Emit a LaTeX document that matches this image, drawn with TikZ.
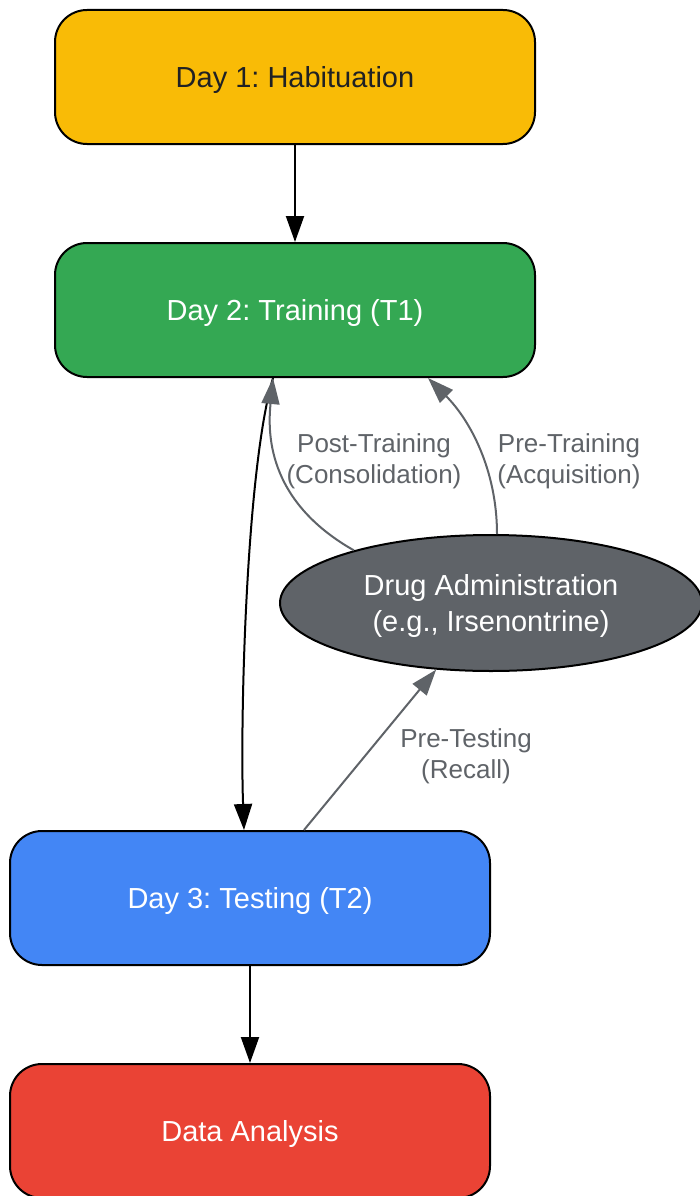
\documentclass[tikz,border=0pt]{standalone}
\usepackage{fontspec}
\setmainfont{Liberation Sans}
\usetikzlibrary{arrows.meta,shapes.geometric}
\definecolor{dayone}{HTML}{F9BB06}
\definecolor{daytwo}{HTML}{34A853}
\definecolor{daythree}{HTML}{4386F5}
\definecolor{analysisred}{HTML}{EA4335}
\definecolor{druggray}{HTML}{5F6368}
\definecolor{darktext}{HTML}{202124}
\frenchspacing
\begin{document}
\begin{tikzpicture}[x=1pt,y=-1pt,
	daybox/.style={draw=black,line width=2pt,rounded corners=32pt,minimum width=480pt,minimum height=134pt,inner sep=0pt,text depth=0pt,text=white,font=\fontsize{29}{34}\selectfont},
	flow/.style={line width=2pt,-{Triangle[length=26pt,width=18pt]}},
	drugflow/.style={flow,draw=druggray},
	steplabel/.style={text=druggray,align=center,text depth=0pt,font=\fontsize{26}{31}\selectfont}]
	\useasboundingbox (0,0) rectangle (700,1196);
	\node [daybox,fill=dayone,text=darktext] (habituation) at (295,77) {Day 1: Habituation};
	\node [daybox,fill=daytwo] (training) at (295,310) {Day 2: Training (T1)};
	\node [daybox,fill=daythree] (testing) at (250,898) {Day 3: Testing (T2)};
	\node [daybox,fill=analysisred] (analysis) at (250,1131) {Data Analysis};
	\node [ellipse,draw=black,line width=2pt,fill=druggray,text=white,minimum width=422pt,minimum height=136pt,inner sep=0pt,align=center,text depth=0pt,font=\fontsize{29}{36}\selectfont] (drug) at (491,603) {Drug Administration\\(e.g., Irsenontrine)};
	\draw [flow] (habituation) -- (training);
	\draw [flow] ([xshift=-22pt]training.south) .. controls (246,470) and (240,720) .. ([xshift=-6pt]testing.north);
	\draw [flow] (testing) -- (analysis);
	\draw [drugflow] (drug.159) .. controls (265,500) and (268,430) .. ([xshift=-22pt]training.south);
	\draw [drugflow] ([xshift=6pt]drug.north) .. controls (497,470) and (470,420) .. ([xshift=133pt]training.south);
	\draw [drugflow] ([xshift=54pt]testing.north) -- (drug);
	\node [steplabel] (posttext) at (374,459) {Post-Training\\(Consolidation)};
	\node [steplabel] (pretext) at (569,459) {Pre-Training\\(Acquisition)};
	\node [steplabel] (testtext) at (466,754) {Pre-Testing\\(Recall)};
\end{tikzpicture}
\end{document}
